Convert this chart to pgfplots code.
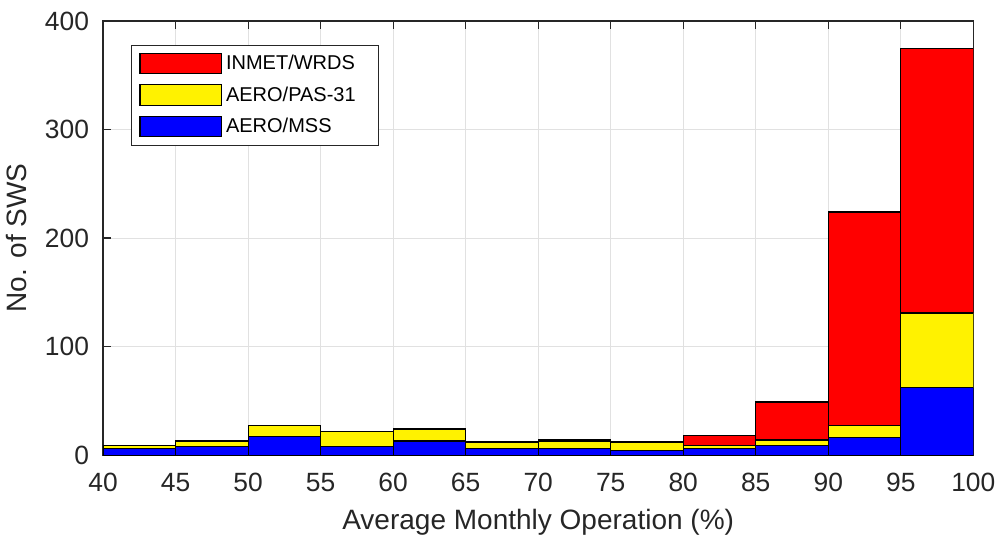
\documentclass[border=0pt]{standalone}
\usepackage{pgfplots}
\pgfplotsset{compat=1.18}
\usepackage{fontspec}
\setmainfont{Liberation Sans}
\definecolor{txt}{RGB}{38,38,38}
\definecolor{gridc}{RGB}{225,225,225}

\begin{document}
\begin{tikzpicture}
\begin{axis}[
    width=435pt, height=217pt,
    scale only axis,
    ybar stacked,
    bar width=5,
    xmin=40, xmax=100,
    ymin=0, ymax=400,
    xtick={40,45,...,100},
    ytick={0,100,200,300,400},
    xmajorgrids=true, ymajorgrids=true,
    grid style={gridc, line width=0.5pt},
    axis line style={txt, line width=0.6pt},
    tick style={txt, line width=0.6pt},
    tick align=inside,
    major tick length=4pt,
    tick label style={font=\fontsize{13.2}{15}\selectfont, text=txt},
    xticklabel style={yshift=-5.5pt},
    yticklabel style={xshift=-3.5pt},
    /pgf/number format/assume math mode=true,
    xlabel={Average Monthly Operation (\%)},
    ylabel={No. of SWS},
    label style={font=\fontsize{14}{16}\selectfont, text=txt},
    xlabel style={yshift=-2pt},
    ylabel style={yshift=2pt},
    legend style={at={(0.032,0.945)}, anchor=north west,
        font=\fontsize{10}{12}\selectfont, draw=txt, line width=0.5pt,
        row sep=3pt, inner xsep=4pt, inner ysep=3pt},
    legend cell align=left,
    legend image code/.code={\draw[#1, draw=black] (0cm,-0.17cm) rectangle (1.43cm,0.19cm);},
    reverse legend,
]
\addplot[fill=blue, draw=black, line width=0.6pt] coordinates {
(42.5,6)(47.5,8)(52.5,17)(57.5,8)(62.5,13)(67.5,6)(72.5,6)(77.5,4)(82.5,6)(87.5,9)(92.5,16)(97.5,62)};
\addlegendentry{AERO/MSS}
\addplot[fill=yellow, draw=black, line width=0.6pt] coordinates {
(42.5,3)(47.5,5)(52.5,10)(57.5,14)(62.5,11)(67.5,6)(72.5,7)(77.5,8)(82.5,3)(87.5,5)(92.5,11)(97.5,69)};
\addlegendentry{AERO/PAS-31}
\addplot[fill=red, draw=black, line width=0.6pt] coordinates {
(42.5,0)(47.5,0)(52.5,0)(57.5,0)(62.5,0)(67.5,0)(72.5,1)(77.5,0)(82.5,9)(87.5,35)(92.5,197)(97.5,244)};
\addlegendentry{INMET/WRDS\hspace*{6pt}}
\end{axis}
\path ([yshift=10.5pt]current axis.north west);
\end{tikzpicture}
\end{document}
